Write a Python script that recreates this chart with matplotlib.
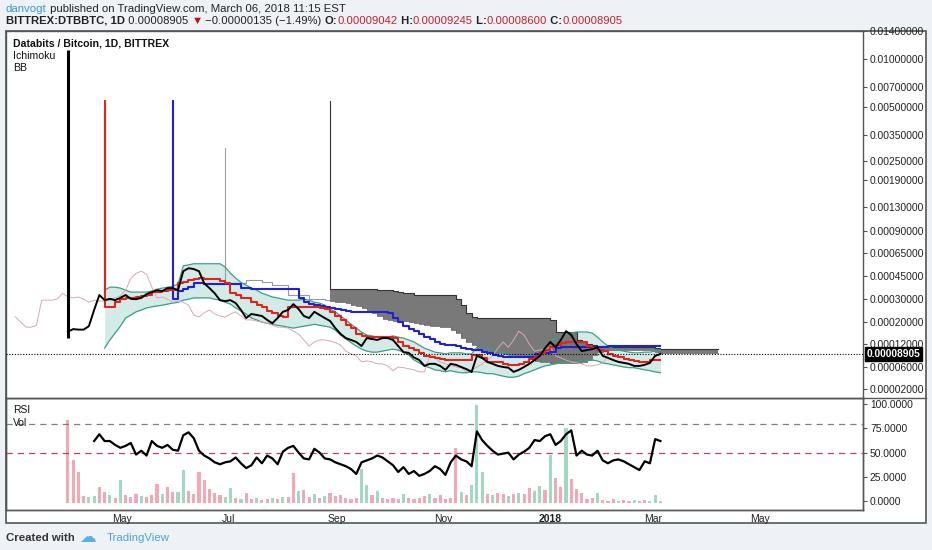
import matplotlib
matplotlib.use('Agg')
import matplotlib.pyplot as plt
import matplotlib.transforms as mtransforms
import numpy as np
import pandas as pd
from matplotlib.patches import Rectangle
from matplotlib.lines import Line2D

plt.rcParams['font.family'] = ['Liberation Sans', 'DejaVu Sans']

# ---------------------------------------------------------------- data
# one sample every 3 days from 2017-03-01, series start at a grid index
GRID_START = '2017-03-01'
GRID_LEN = 135

LAST_PRICE = 0.00008905
FIRST_BAR_HIGH = 0.0112
FIRST_BAR_LOW = 0.000138

CLOSE_START = 10
close = [0.00016, 0.00017, 0.000168, 0.000168, 0.000182, 0.000248, 0.000323, 0.000295, 0.000302, 0.000295,
         0.000307, 0.000323, 0.000302, 0.0003, 0.000307, 0.000328, 0.00034, 0.000352, 0.000346, 0.000365,
         0.000365, 0.000352, 0.000488, 0.000512, 0.000505, 0.000488, 0.000397, 0.000365, 0.000333, 0.000295,
         0.00029, 0.000295, 0.00028, 0.000248, 0.000215, 0.000231, 0.000227, 0.000223, 0.000208, 0.000195,
         0.000215, 0.00024, 0.000248, 0.000275, 0.000252, 0.000223, 0.000215, 0.00024, 0.000227, 0.000215,
         0.000204, 0.000174, 0.000152, 0.000138, 0.000132, 0.000126, 0.000113, 0.000138, 0.000135, 0.000132,
         0.000138, 0.000138, 0.000132, 0.000113, 0.000094, 0.000092, 0.00008, 0.0000742, 0.000062, 0.000066,
         0.000066, 0.000062, 0.000052, 0.000066, 0.000064, 0.00006, 0.000054, 0.000047, 0.000084, 0.000079,
         0.00007, 0.000066, 0.000062, 0.00006, 0.000058, 0.000047, 0.000052, 0.00006, 0.000066, 0.000074,
         0.000084, 0.000106, 0.000126, 0.000109, 0.000132, 0.000162, 0.000148, 0.00012, 0.000097, 0.0001,
         0.000103, 0.000109, 0.000084, 0.000079, 0.000074, 0.00007, 0.000068, 0.000066, 0.000062, 0.000062,
         0.000064, 0.000068, 0.000084, 0.00008905]

LAG_START = 0
lagging = [0.000219, 0.0002, 0.000178, 0.000178, 0.000186, 0.000295, 0.000295, 0.000295, 0.000302, 0.000333,
           0.000312, 0.000307, 0.000312, 0.0003, 0.000284, 0.000295, 0.00029, 0.00029, 0.000295, 0.000307,
           0.000318, 0.000352, 0.000433, 0.000472, 0.000488, 0.000465, 0.000371, 0.000307, 0.000312, 0.0003,
           0.000284, 0.00029, 0.000284, 0.00027, 0.000227, 0.000219, 0.000236, 0.000248, 0.000231, 0.000223,
           0.000219, 0.000231, 0.00024, 0.000223, 0.000208, 0.000208, 0.000204, 0.0002, 0.000195, 0.000186,
           0.000178, 0.000178, 0.000174, 0.000162, 0.000152, 0.000132, 0.000113, 0.000126, 0.000132, 0.000132,
           0.000129, 0.000124, 0.0001165, 0.000097, 0.000089, 0.000084, 0.00007, 0.000072, 0.00007, 0.000066,
           0.000066, 0.000062, 0.00005, 0.00006, 0.000058, 0.000055, 0.000052, 0.000047, 0.000047, 0.000084,
           0.000079, 0.00007, 0.000066, 0.000062, 0.00006, 0.000058, 0.000047, 0.000052, 0.00006, 0.000066,
           0.000074, 0.000084, 0.000106, 0.000126, 0.000109, 0.000132, 0.000162, 0.000148, 0.00012, 0.000097,
           0.0001, 0.000103, 0.000109, 0.000084, 0.000079, 0.000074, 0.00007, 0.000068, 0.000066, 0.000062,
           0.000062, 0.000064, 0.000068, 0.000084, 0.000089]

CONV_START = 17
conversion = [0.00553,
              0.000262, 0.000262, 0.000284, 0.000302, 0.000307, 0.000307, 0.000312, 0.000318, 0.000323, 0.00034,
              0.00034, 0.000346, 0.000352, 0.000352, 0.000397, 0.000404, 0.000419, 0.000426, 0.000433, 0.000426,
              0.000426, 0.000426, 0.000412, 0.000397, 0.000333, 0.000323, 0.000307, 0.000307, 0.000284, 0.00027,
              0.000262, 0.000244, 0.000236, 0.000223, 0.000219, 0.000262, 0.000262, 0.000262, 0.000262, 0.000262,
              0.000262, 0.000257, 0.000252, 0.00024, 0.000223, 0.000208, 0.000186, 0.000174, 0.000152, 0.000145,
              0.000141, 0.000141, 0.000141, 0.000141, 0.000141, 0.000138, 0.000126, 0.000113, 0.000106, 0.0001,
              0.000092, 0.000084, 0.00008, 0.000078, 0.000076, 0.0000742, 0.0000742, 0.0000742, 0.0000742, 0.0000742,
              0.0000862, 0.0000862, 0.000078, 0.00007, 0.00007, 0.00007, 0.000066, 0.000064, 0.000064, 0.000066,
              0.00007, 0.000076, 0.000084, 0.000092, 0.0001, 0.000109, 0.0001165, 0.000124, 0.000126, 0.000126,
              0.000126, 0.000126, 0.000113, 0.000106, 0.0001, 0.000097, 0.000089, 0.000084, 0.00008, 0.000076,
              0.0000742, 0.000072, 0.00007, 0.00007, 0.0000742, 0.0000742]

BASE_START = 30
base = [0.00553,
        0.0003, 0.000346, 0.000358, 0.000371, 0.000397, 0.000397, 0.000391, 0.000391, 0.000391, 0.000391,
        0.000391, 0.000391, 0.000391, 0.000365, 0.000365, 0.000358, 0.000358, 0.000358, 0.000358, 0.000358,
        0.000358, 0.000358, 0.000358, 0.000358, 0.000307, 0.000284, 0.000275, 0.00027, 0.000266, 0.000262,
        0.000257, 0.000252, 0.000248, 0.000244, 0.00024, 0.00024, 0.00024, 0.00024, 0.00024, 0.00024,
        0.00024, 0.000236, 0.000215, 0.0002, 0.000182, 0.00017, 0.000162, 0.000152, 0.000141, 0.000135,
        0.000126, 0.00012, 0.0001165, 0.0001165, 0.000113, 0.000106, 0.000103, 0.0001, 0.0001, 0.000094,
        0.000092, 0.0000862, 0.000084, 0.00008, 0.00008, 0.00008, 0.00008, 0.00008, 0.00008, 0.000089,
        0.000092, 0.000092, 0.000094, 0.000106, 0.000109, 0.000109, 0.000109, 0.000109, 0.000109, 0.000109,
        0.000109, 0.000109, 0.000109, 0.000113, 0.000113, 0.000113, 0.000113, 0.000113, 0.000113, 0.000113,
        0.000113, 0.000113, 0.000113]

BB_START = 17
bb_upper = [0.000352, 0.000371, 0.000371, 0.000365, 0.000352, 0.00034, 0.00034, 0.00034, 0.00034, 0.000346,
            0.000358, 0.000365, 0.000371, 0.000378, 0.000391, 0.000531, 0.00054, 0.00055, 0.00055, 0.00055,
            0.00055, 0.00055, 0.00055, 0.000522, 0.000472, 0.000435, 0.000404, 0.000384, 0.000365, 0.000352,
            0.000333, 0.000323, 0.000312, 0.000307, 0.0003, 0.000295, 0.000295, 0.000295, 0.0003, 0.000295,
            0.000284, 0.00028, 0.00027, 0.000252, 0.00024, 0.000223, 0.000208, 0.00019, 0.000174, 0.000159,
            0.000148, 0.000145, 0.000141, 0.000141, 0.000141, 0.000145, 0.000141, 0.000138, 0.000132, 0.000126,
            0.0001165, 0.000106, 0.0001, 0.000094, 0.000092, 0.000089, 0.000092, 0.000092, 0.000092, 0.000089,
            0.000089, 0.000109, 0.000106, 0.000103, 0.0001, 0.000097, 0.000092, 0.0000862, 0.000084, 0.00008,
            0.00008, 0.0000862, 0.000094, 0.000103, 0.000113, 0.000126, 0.000135, 0.000145, 0.000152, 0.000155,
            0.000159, 0.000159, 0.000159, 0.000155, 0.000141, 0.000126, 0.000113, 0.000103, 0.0001, 0.000097,
            0.000094, 0.000092, 0.000092, 0.000094, 0.000094, 0.000097, 0.0001]
bb_lower = [0.000106, 0.000132, 0.000155, 0.000182, 0.000215, 0.000227, 0.00024, 0.000248, 0.000257, 0.000262,
            0.000266, 0.00027, 0.000275, 0.00028, 0.000284, 0.000295, 0.0003, 0.000307, 0.000307, 0.000307,
            0.000307, 0.0003, 0.000295, 0.000284, 0.000275, 0.000257, 0.000244, 0.000231, 0.000215, 0.000208,
            0.0002, 0.000195, 0.00019, 0.000186, 0.000182, 0.000178, 0.000174, 0.000178, 0.000182, 0.000186,
            0.00019, 0.000186, 0.000182, 0.000178, 0.000166, 0.000148, 0.000135, 0.000124, 0.000113, 0.000103,
            0.000097, 0.000094, 0.000094, 0.000097, 0.0001, 0.000103, 0.0001, 0.000094, 0.0000862, 0.0000742,
            0.000068, 0.000062, 0.000058, 0.000052, 0.00005, 0.000047, 0.00005, 0.000047, 0.000045, 0.000045,
            0.000047, 0.000047, 0.000045, 0.000043, 0.000043, 0.0000404, 0.000038, 0.000036, 0.000036, 0.000038,
            0.000043, 0.000047, 0.000052, 0.000058, 0.000062, 0.000064, 0.000066, 0.000068, 0.00007, 0.00007,
            0.00007, 0.000072, 0.000072, 0.0000742, 0.000072, 0.000068, 0.000066, 0.000064, 0.000062, 0.00006,
            0.000058, 0.000058, 0.000055, 0.000052, 0.00005, 0.000047, 0.000045]

LEAD_A_START = 40
lead_a = [0.00296,
          0.000397, 0.000397, 0.000397, 0.000397, 0.000419, 0.000419, 0.000419, 0.000404, 0.000404,
          0.000384, 0.000384, 0.000384, 0.000323, 0.000323, 0.000323, 0.000323, 0.000302, 0.000302, 0.000302,
          0.000295, 0.00029, 0.000284, 0.000284, 0.00028, 0.00027, 0.000266, 0.000257, 0.000248, 0.000236,
          0.000223, 0.000212, 0.000208, 0.000204, 0.000204, 0.000204, 0.0002, 0.000195, 0.00019, 0.000186,
          0.000182, 0.000182, 0.000178, 0.000178, 0.000166, 0.000155, 0.000138, 0.000126, 0.0001165, 0.000106,
          0.0001, 0.000094, 0.000092, 0.000092, 0.000089, 0.000089, 0.0000862, 0.0000862, 0.00008, 0.000076,
          0.000072, 0.00007, 0.00007, 0.000068, 0.000068, 0.000068, 0.000068, 0.000068, 0.000068, 0.00007,
          0.0000742, 0.0000862, 0.000094, 0.000097, 0.0001, 0.0001, 0.0001, 0.0001, 0.0001, 0.0001,
          0.0001, 0.0001, 0.0001, 0.000094, 0.000092, 0.000092, 0.000092, 0.000092, 0.000092, 0.000092,
          0.000092, 0.000092, 0.000092, 0.000092, 0.000092]

LEAD_B_START = 60
lead_b = [0.00553,
          0.000358, 0.000358, 0.000358, 0.000358, 0.000358, 0.000358, 0.000358, 0.000358, 0.000358,
          0.000352, 0.000352, 0.000352, 0.000346, 0.00034, 0.000333, 0.000333,
          0.000323, 0.000323, 0.000323, 0.000323, 0.000323, 0.000323, 0.000323, 0.000323,
          0.000302, 0.00027, 0.000236, 0.000219,
          0.000215, 0.000215, 0.000215, 0.000215, 0.000215, 0.000215, 0.000215, 0.000215, 0.000215, 0.000215,
          0.000215, 0.000215, 0.000215, 0.000215, 0.000208,
          0.000159, 0.000159, 0.000159, 0.000159, 0.000132, 0.000126, 0.00012, 0.0001165, 0.000113, 0.000113,
          0.000109, 0.000109, 0.000109, 0.000109, 0.000109, 0.000109, 0.000109, 0.000109, 0.000109, 0.000106,
          0.000103, 0.000103, 0.000103, 0.000103, 0.000103, 0.000103, 0.000103, 0.000103, 0.000103, 0.000103,
          0.000103]

RSI_START = 15
rsi = [62, 69, 62, 62, 58, 55, 57, 60, 48, 52,
       47, 62, 57, 55, 58, 53, 52, 68, 71, 65,
       52, 47, 44, 40, 38, 40, 41, 45, 39, 34,
       37, 45, 39, 47, 44, 38, 51, 55, 57, 50,
       44, 43, 54, 50, 44, 43, 40, 38, 36, 33,
       28, 40, 42, 44, 47, 45, 41, 37, 30, 35,
       28, 31, 26, 28, 31, 36, 33, 27, 40, 47,
       43, 41, 36, 72, 63, 57, 52, 48, 49, 50,
       43, 48, 51, 55, 63, 62, 67, 69, 58, 62,
       69, 73, 47, 52, 48, 47, 52, 42, 39, 42,
       43, 41, 38, 35, 32, 41, 39, 64, 62]

VOL_START = 10
volume = [85, 44, 32, 7, 6, 7, 16, 11, 8, 5,
          23, 8, 6, 9, 7, 6, 8, 19, 9, 16,
          11, 11, 34, 12, 9, 32, 23, 14, 10, 8,
          6, 15, 5, 4, 10, 4, 5, 3, 4, 5,
          4, 6, 6, 31, 12, 13, 6, 9, 5, 7,
          10, 7, 8, 5, 4, 5, 35, 18, 8, 12,
          5, 4, 5, 4, 9, 5, 4, 5, 7, 9,
          5, 8, 4, 5, 56, 11, 8, 18, 100, 32,
          9, 8, 10, 9, 7, 9, 10, 9, 15, 12,
          17, 13, 49, 26, 16, 77, 24, 14, 10, 4,
          5, 10, 3, 2, 4, 2, 3, 2, 3, 2,
          3, 2, 8, 2]
# u = up day (green), d = down day (red)
vol_dir = ('dddduuddud'
           'udddudddud'
           'duuddddddd'
           'uududduddu'
           'dudduddudu'
           'dddddduudu'
           'dddduddddu'
           'ddddduduuu'
           'duddududdu'
           'ududdudddd'
           'duddduddud'
           'duuu')

# price axis calibration: label values and the rows where TradingView put them
PRICE_TICKS = [0.00002, 0.00006, 0.00012, 0.0002, 0.0003, 0.00045, 0.00065, 0.0009,
               0.0013, 0.0019, 0.0025, 0.0035, 0.005, 0.007, 0.01, 0.014]
PRICE_ROWS = [389, 367, 344, 322, 299, 276, 253, 231, 207, 179, 160, 134, 106, 86, 58, 30]
PRICE_LIMITS = (0.0000127, 0.0138)

RSI_TICKS = [0, 25, 50, 75, 100]
MONTHS = ['2017-05-01', '2017-07-01', '2017-09-01', '2017-11-01', '2018-01-01', '2018-03-01', '2018-05-01']
MONTH_LABELS = ['May', 'Jul', 'Sep', 'Nov', '2018', 'Mar', 'May']
X_LIMITS = ('2017-02-23 14:00', '2018-06-28 22:00')

# ---------------------------------------------------------------- helpers
W, H = 932, 550


def fx(px):
    return px / W


def fy(py):
    return 1 - py / H


grid = pd.date_range(GRID_START, periods=GRID_LEN, freq='3D')


def dates(start, values):
    return grid[start:start + len(values)]


_lp = np.log10(PRICE_TICKS)
_rw = -np.array(PRICE_ROWS, float)
_s0 = (_rw[1] - _rw[0]) / (_lp[1] - _lp[0])
_s1 = (_rw[-1] - _rw[-2]) / (_lp[-1] - _lp[-2])
_LP = np.concatenate([[_lp[0] - 4], _lp, [_lp[-1] + 4]])
_RW = np.concatenate([[_rw[0] - 4 * _s0], _rw, [_rw[-1] + 4 * _s1]])


def price_fwd(v):
    return np.interp(np.log10(np.clip(v, 1e-12, None)), _LP, _RW)


def price_inv(u):
    return 10 ** np.interp(u, _RW, _LP)


# ---------------------------------------------------------------- figure
fig = plt.figure(figsize=(W / 100, H / 100), dpi=100)
fig.patch.set_facecolor('#eef1f6')
fig.add_artist(Rectangle((fx(6), fy(523)), fx(926) - fx(6), (523 - 31) / H, transform=fig.transFigure,
                         facecolor='white', edgecolor='#555555', lw=1.2, zorder=-5))

ax_v = fig.add_axes([fx(6), fy(510), fx(863) - fx(6), (510 - 398) / H])
ax = fig.add_axes([fx(6), fy(398), fx(863) - fx(6), (398 - 31) / H], sharex=ax_v)
ax_r = ax_v.twinx()

# --- price pane
ax.set_yscale('function', functions=(price_fwd, price_inv))
ax.set_ylim(*PRICE_LIMITS)

d_bb = dates(BB_START, bb_upper)
ax.fill_between(d_bb, bb_lower, bb_upper, color='#d3ebe6', lw=0, zorder=1)

d_a = dates(LEAD_A_START, lead_a)
d_b = dates(LEAD_B_START, lead_b)
off = LEAD_B_START - LEAD_A_START
ax.fill_between(d_b, lead_a[off:], lead_b, step='pre', color='#727272', alpha=0.95, lw=0, zorder=2)
ax.plot(d_a[:off + 1], lead_a[:off + 1], drawstyle='steps-pre', color='#9a9a9a', lw=0.8, zorder=3)
ax.plot(d_a[off:], lead_a[off:], drawstyle='steps-pre', color='#6a6a6a', lw=0.6, zorder=3)
ax.plot(d_b, lead_b, drawstyle='steps-pre', color='#333333', lw=0.8, zorder=3)

ax.plot(d_bb, bb_upper, color='#3b9e8b', lw=0.9, zorder=3)
ax.plot(d_bb, bb_lower, color='#3b9e8b', lw=0.9, zorder=3)
ax.plot(dates(LAG_START, lagging), lagging, color='#d9a7b0', lw=0.7, zorder=3)

ax.plot(dates(BASE_START, base), base, drawstyle='steps-pre', color='#1f1fdc', lw=1.5, zorder=4)
ax.plot(dates(CONV_START, conversion), conversion, drawstyle='steps-pre', color='#e3221c', lw=1.5, zorder=5)

ax.vlines(grid[CLOSE_START], FIRST_BAR_LOW, FIRST_BAR_HIGH, color='black', lw=2.2, zorder=6)
ax.plot(dates(CLOSE_START, close), close, color='black', lw=1.4, zorder=6)

ax.axhline(LAST_PRICE, color='black', lw=0.8, ls=(0, (1, 1.5)), zorder=7)

ax.yaxis.tick_right()
ax.set_yticks(PRICE_TICKS)
ax.set_yticklabels(['%.8f' % v for v in PRICE_TICKS])
ax.yaxis.set_minor_locator(plt.NullLocator())
ax.tick_params(axis='y', direction='out', length=3, width=0.8, color='#555555', labelsize=7.4,
               pad=2, labelcolor='#222222')
ax.tick_params(axis='x', length=0, labelbottom=False)
for s in ax.spines.values():
    s.set_color('#555555')
    s.set_linewidth(1.0)

trans = mtransforms.blended_transform_factory(ax.transAxes, ax.transData)
ax.text(1.0 + 3.5 / 857, LAST_PRICE, '%.8f' % LAST_PRICE, transform=trans, ha='left', va='center',
        color='white', fontsize=7.4, fontweight='bold', clip_on=False, zorder=10,
        bbox=dict(boxstyle='square,pad=0.18', fc='black', ec='black'))

# --- rsi / volume pane
d_vol = dates(VOL_START, volume)
vcolors = ['#9fd9c2' if c == 'u' else '#f5a7b3' for c in vol_dir]
ax_v.bar(d_vol, volume, width=1.8, color=vcolors, lw=0)
ax_v.set_ylim(-7.1, 107.1)
ax_v.set_yticks([])

ax_r.axhline(80, color='#808080', lw=0.9, ls=(0, (5, 4)))
ax_r.axhline(50, color='#c0405e', lw=0.9, ls=(0, (5, 4)))
ax_r.plot(dates(RSI_START, rsi), rsi, color='black', lw=1.6)
ax_r.set_ylim(-9.3, 106.5)
ax_r.set_yticks(RSI_TICKS)
ax_r.set_yticklabels(['%.4f' % v for v in RSI_TICKS])
ax_r.tick_params(axis='y', direction='out', length=3, width=0.8, color='#555555', labelsize=7.4,
                 pad=2, labelcolor='#222222')

ax_v.set_xlim(pd.Timestamp(X_LIMITS[0]), pd.Timestamp(X_LIMITS[1]))
ax_v.set_xticks([pd.Timestamp(m) for m in MONTHS])
ax_v.set_xticklabels(MONTH_LABELS)
ax_v.tick_params(axis='x', length=0, pad=3, labelsize=7.5, labelcolor='#222222')
for lab in ax_v.get_xticklabels():
    if lab.get_text().isdigit():
        lab.set_fontweight('bold')
for a in (ax_v, ax_r):
    for s in a.spines.values():
        s.set_color('#555555')
        s.set_linewidth(1.0)

fig.add_artist(Line2D([fx(863), fx(926)], [fy(398), fy(398)], color='#555555', lw=1.0))

# --- texts
fig.text(fx(13), fy(47), 'Databits / Bitcoin, 1D, BITTREX', fontsize=7.6, fontweight='bold', color='#111111')
fig.text(fx(13), fy(59), 'Ichimoku', fontsize=7.6, color='#111111')
fig.text(fx(13), fy(71), 'BB', fontsize=7.6, color='#111111')
fig.text(fx(13), fy(413), 'RSI', fontsize=7.4, color='#111111')
fig.text(fx(13), fy(425.5), 'Vol', fontsize=7.4, color='#111111')


def text_run(parts, x, y, size):
    prev = fig.text(x, y, parts[0][0], color=parts[0][1], fontweight=parts[0][2], fontsize=size, va='bottom')
    for s, c, w in parts[1:]:
        prev = ax.annotate(s, xy=(1, 0), xycoords=prev, va='bottom', ha='left', color=c,
                           fontweight=w, fontsize=size, annotation_clip=False)


DARK, RED, BLUE = '#222222', '#c0232c', '#3a9ad9'
text_run([('danvogt', BLUE, 'normal'),
          (' published on TradingView.com, March 06, 2018 11:15 EST', DARK, 'normal')],
         fx(6), fy(13.5), 8.2)
text_run([('BITTREX:DTBBTC, 1D', DARK, 'bold'),
          (' 0.00008905 ', DARK, 'normal'),
          ('\u25BC', '#c0101a', 'normal'),
          (' \u22120.00000135 (\u22121.49%) ', DARK, 'normal'),
          ('O:', DARK, 'bold'), ('0.00009042', RED, 'normal'),
          (' H:', DARK, 'bold'), ('0.00009245', RED, 'normal'),
          (' L:', DARK, 'bold'), ('0.00008600', RED, 'normal'),
          (' C:', DARK, 'bold'), ('0.00008905', RED, 'normal')],
         fx(6), fy(25.5), 8.1)

fig.text(fx(6), fy(541), 'Created with', fontsize=8.2, color='#333333', fontweight='bold')
fig.text(fx(79), fy(542), '\u2601', fontsize=12, color='#5aaee0', family='DejaVu Sans')
fig.text(fx(107), fy(541), 'TradingView', fontsize=8.2, color='#4ea3d6')

fig.savefig('out.png', dpi=100, facecolor=fig.get_facecolor())
